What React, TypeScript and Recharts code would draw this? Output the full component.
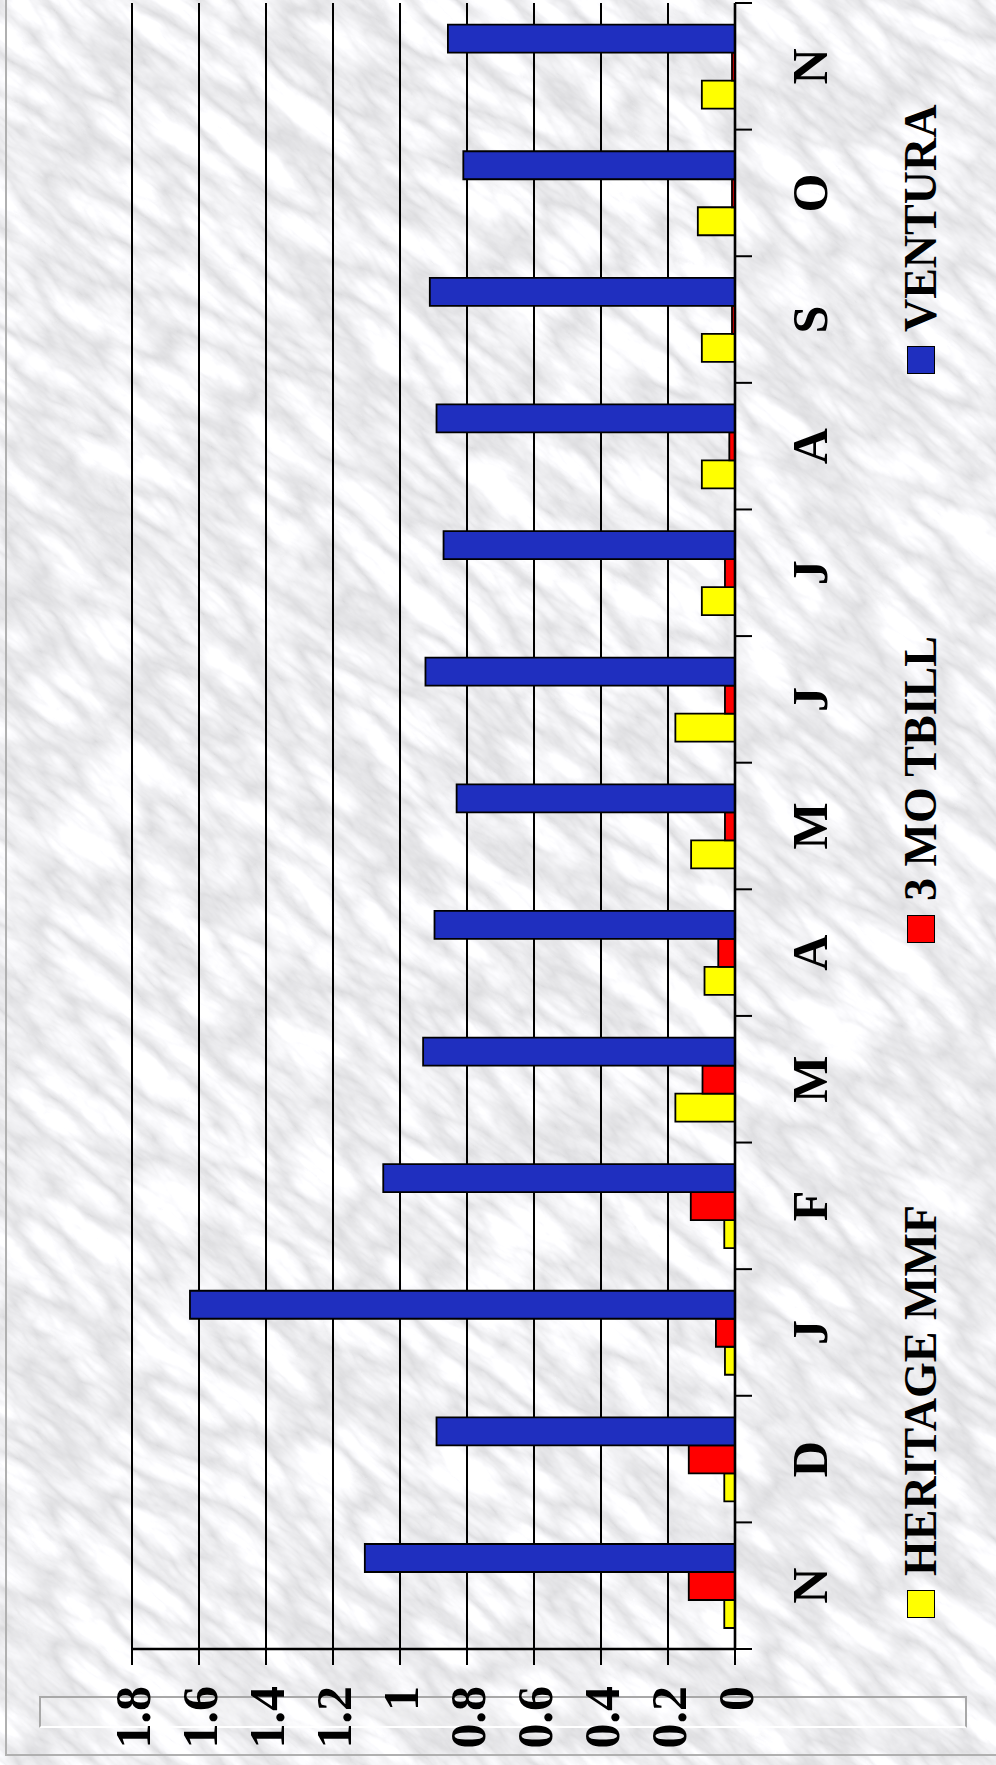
import React from 'react';
import { BarChart, Bar, XAxis, YAxis, CartesianGrid, Legend } from 'recharts';

const months = ['N', 'D', 'J', 'F', 'M', 'A', 'M', 'J', 'J', 'A', 'S', 'O', 'N'];
const heritage = [0.032, 0.032, 0.03, 0.032, 0.178, 0.091, 0.131, 0.178, 0.099, 0.099, 0.099, 0.111, 0.099];
const tbill = [0.138, 0.138, 0.057, 0.132, 0.097, 0.05, 0.03, 0.03, 0.03, 0.017, 0.009, 0.009, 0.009];
const ventura = [1.105, 0.891, 1.627, 1.05, 0.931, 0.897, 0.831, 0.924, 0.87, 0.891, 0.911, 0.811, 0.857];
const yTicks = [0, 0.2, 0.4, 0.6, 0.8, 1, 1.2, 1.4, 1.6, 1.8];
const seriesNames = ['HERITAGE MMF', '3 MO TBILL', 'VENTURA'];
const seriesColors = ['#ffff00', '#ff0000', '#1f2fbf'];

const data = months.map((m, i) => ({ month: m, h: heritage[i], t: tbill[i], v: ventura[i] }));

const CHART_W = 1765;
const CHART_H = 996;
const MARGIN = { top: 132, right: 3, bottom: 161, left: 0 };
const Y_W = 116;
const X_H = 100;
const PLOT_W = CHART_W - MARGIN.left - MARGIN.right - Y_W;
const BAND = PLOT_W / months.length;
const FONT = '"Liberation Serif", "Times New Roman", serif';

const MonthTick = (props: any) => {
  const { x, y, payload, index } = props;
  const last = index === months.length - 1;
  return (
    <g>
      <line x1={x - BAND / 2} x2={x - BAND / 2} y1={y} y2={y + 17} stroke="#000" strokeWidth={2} />
      {last && <line x1={x + BAND / 2} x2={x + BAND / 2} y1={y} y2={y + 17} stroke="#000" strokeWidth={2} />}
      <text x={x} y={y + 92} textAnchor="middle" fontFamily={FONT} fontWeight="bold" fontSize={50} fill="#000">
        {payload.value}
      </text>
    </g>
  );
};

const LegendContent = () => {
  return (
    <div style={{ display: 'flex', alignItems: 'center', height: 60, whiteSpace: 'nowrap' }}>
      {seriesNames.map((name, i) => (
        <div key={i} style={{ display: 'flex', alignItems: 'center', marginRight: 262 }}>
          <div style={{ width: 26, height: 26, background: seriesColors[i], border: '1.8px solid #000' }} />
          <span style={{ marginLeft: 14, fontFamily: FONT, fontWeight: 'bold', fontSize: 46, color: '#000', lineHeight: '60px' }}>
            {name}
          </span>
        </div>
      ))}
    </div>
  );
};

export default function App() {
  return (
    <div>
      <style>{`body{margin:0;overflow:hidden}`}</style>
      <svg width={996} height={1765} style={{ position: 'absolute', left: 0, top: 0 }}>
        <defs>
          <filter id="marble" x="0" y="0" width="100%" height="100%" colorInterpolationFilters="sRGB">
            <feTurbulence type="turbulence" baseFrequency="0.01 0.03" numOctaves={5} seed={11} result="n" />
            <feColorMatrix
              in="n"
              type="matrix"
              values="0.26 0 0 0 0.855  0.26 0 0 0 0.855  0.26 0 0 0 0.865  0 0 0 0 1"
            />
          </filter>
        </defs>
        <rect x={0} y={0} width={996} height={1765} fill="#e8e8ea" />
        <g transform="rotate(40 498 882)">
          <rect x={-800} y={-500} width={2600} height={2800} filter="url(#marble)" />
        </g>
      </svg>
      <div
        style={{
          position: 'absolute',
          left: 5,
          top: -10,
          width: 1000,
          height: 1766,
          border: '2px solid #b0b0b0',
          boxSizing: 'border-box',
        }}
      />
      <div
        style={{
          position: 'absolute',
          left: 0,
          top: 0,
          width: CHART_W,
          height: CHART_H,
          transformOrigin: '0 0',
          transform: `translate(0px, ${CHART_W}px) rotate(-90deg)`,
        }}
      >
        <div
          style={{
            position: 'absolute',
            left: 37,
            top: 39,
            width: 32,
            height: 928,
            border: '2px solid #a8a8a8',
            borderLeft: '2px solid #ffffff',
            background: 'rgba(255,255,255,0.18)',
            boxSizing: 'border-box',
          }}
        />
        <div style={{ position: 'absolute', left: 0, top: 0 }}>
          <BarChart width={CHART_W} height={CHART_H} data={data} margin={MARGIN} barSize={28} barGap={0}>
            <CartesianGrid horizontal vertical={false} stroke="#000" strokeWidth={2} />
            <XAxis
              dataKey="month"
              height={X_H}
              interval={0}
              tickSize={0}
              tickMargin={0}
              tick={<MonthTick />}
              axisLine={{ stroke: '#000', strokeWidth: 2.6 }}
            />
            <YAxis
              width={Y_W}
              domain={[0, 1.8]}
              ticks={yTicks}
              interval={0}
              tickSize={16}
              tickMargin={21}
              tickLine={{ stroke: '#000', strokeWidth: 2 }}
              axisLine={{ stroke: '#000', strokeWidth: 2.6 }}
              tick={{ fill: '#000', fontFamily: FONT, fontWeight: 'bold', fontSize: 50 }}
            />
            <YAxis
              yAxisId="r"
              orientation="right"
              width={0}
              domain={[0, 1.8]}
              tick={false}
              tickLine={false}
              axisLine={{ stroke: '#000', strokeWidth: 2 }}
            />
            <Legend
              layout="horizontal"
              verticalAlign="middle"
              align="center"
              content={<LegendContent />}
              wrapperStyle={{ left: 147, top: 891, width: 'auto', height: 60 }}
            />
            <Bar dataKey="h" name={seriesNames[0]} fill={seriesColors[0]} stroke="#000" strokeWidth={1.8} isAnimationActive={false} />
            <Bar dataKey="t" name={seriesNames[1]} fill={seriesColors[1]} stroke="#000" strokeWidth={1.8} isAnimationActive={false} />
            <Bar dataKey="v" name={seriesNames[2]} fill={seriesColors[2]} stroke="#000" strokeWidth={1.8} isAnimationActive={false} />
          </BarChart>
        </div>
      </div>
    </div>
  );
}
